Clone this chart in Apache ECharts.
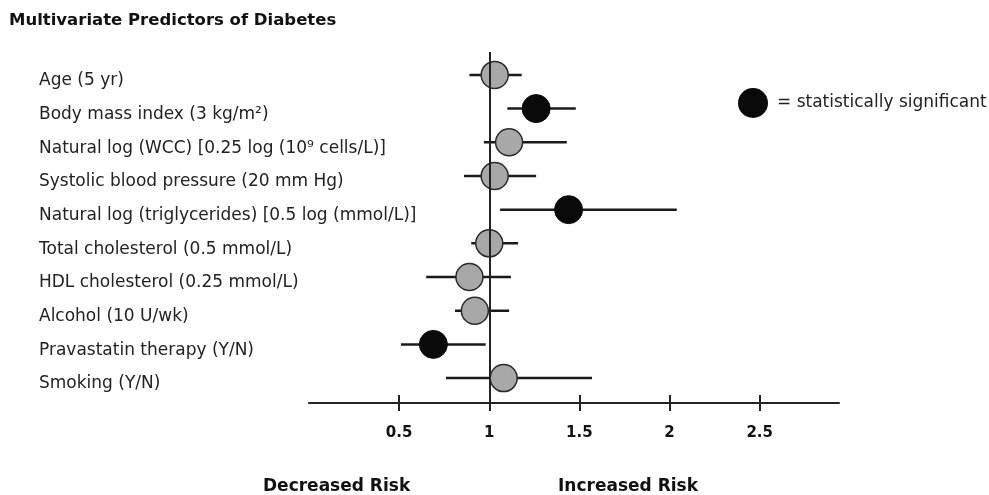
<!DOCTYPE html>
<html>
<head>
<meta charset="utf-8">
<script src="https://cdn.jsdelivr.net/npm/echarts@6/dist/echarts.min.js"></script>
<style>
  html, body { margin: 0; padding: 0; background: #fff; }
  #chart { width: 989px; height: 495px; }
</style>
</head>
<body>
<div id="chart"></div>
<script>
const predictors = [
  "Age (5 yr)",
  "Body mass index (3 kg/m²)",
  "Natural log (WCC) [0.25 log (10⁹ cells/L)]",
  "Systolic blood pressure (20 mm Hg)",
  "Natural log (triglycerides) [0.5 log (mmol/L)]",
  "Total cholesterol (0.5 mmol/L)",
  "HDL cholesterol (0.25 mmol/L)",
  "Alcohol (10 U/wk)",
  "Pravastatin therapy (Y/N)",
  "Smoking (Y/N)"
];
const oddsRatio = [1.03, 1.26, 1.11, 1.03, 1.44, 1.0, 0.89, 0.92, 0.69, 1.08];
const ciLower = [0.89, 1.1, 0.97, 0.86, 1.06, 0.9, 0.65, 0.81, 0.51, 0.76];
const ciUpper = [1.18, 1.48, 1.43, 1.26, 2.04, 1.16, 1.12, 1.11, 0.98, 1.57];
const significant = [false, true, false, false, true, false, false, false, true, false];
const xTicks = [0.5, 1, 1.5, 2, 2.5];

const rowIdx = predictors.map((_, i) => i);
const font = "DejaVu Sans";

const chart = echarts.init(document.getElementById("chart"));

const option = {
  animation: false,
  backgroundColor: "#fff",
  textStyle: { fontFamily: font },
  title: [
    {
      text: "Multivariate Predictors of Diabetes",
      left: 9, top: 12, padding: 0,
      textStyle: { fontFamily: font, fontSize: 16.5, fontWeight: "bold", color: "#111" }
    },
    {
      text: "Decreased Risk",
      left: 263, top: 478, padding: 0,
      textStyle: { fontFamily: font, fontSize: 17, fontWeight: "bold", color: "#111" }
    },
    {
      text: "Increased Risk",
      left: 558, top: 478, padding: 0,
      textStyle: { fontFamily: font, fontSize: 17, fontWeight: "bold", color: "#111" }
    }
  ],
  legend: {
    left: 733, top: 83,
    itemWidth: 28, itemHeight: 28,
    data: ["= statistically significant"],
    textStyle: { fontFamily: font, fontSize: 17, color: "#222", padding: [0, 0, 0, 5] }
  },
  grid: { left: 309, right: 150, top: 52, bottom: 92 },
  xAxis: [
    {
      type: "value",
      min: 0, max: 2.94,
      splitLine: { show: false },
      axisLine: { onZero: false, lineStyle: { color: "#222", width: 2 } },
      axisTick: { customValues: xTicks, length: 8, lineStyle: { color: "#222", width: 2 } },
      axisLabel: {
        customValues: xTicks,
        margin: 23,
        fontFamily: font, fontSize: 15, fontWeight: "bold", color: "#111"
      }
    },
    {
      type: "value",
      position: "bottom",
      min: 0, max: 2.94,
      splitLine: { show: false },
      axisLine: { show: false, onZero: false },
      axisLabel: { show: false },
      axisTick: { customValues: xTicks, inside: true, length: 8, lineStyle: { color: "#222", width: 2 } }
    }
  ],
  yAxis: {
    type: "value",
    inverse: true,
    min: -0.68, max: 9.74,
    splitLine: { show: false },
    axisLine: { show: false },
    axisTick: { show: false },
    axisLabel: {
      customValues: rowIdx,
      formatter: (v) => predictors[v],
      align: "left",
      verticalAlign: "top",
      lineHeight: 12,
      margin: 270,
      fontFamily: font, fontSize: 17, color: "#222"
    }
  },
  series: [
    {
      name: "ci",
      type: "custom",
      z: 1,
      data: rowIdx.map((i) => [ciLower[i], ciUpper[i], i]),
      encode: { x: [0, 1], y: 2 },
      renderItem: (params, api) => {
        const a = api.coord([api.value(0), api.value(2)]);
        const b = api.coord([api.value(1), api.value(2)]);
        return {
          type: "line",
          shape: { x1: a[0], y1: a[1], x2: b[0], y2: b[1] },
          style: { stroke: "#1a1a1a", lineWidth: 2.5 }
        };
      },
      markLine: {
        silent: true,
        symbol: "none",
        label: { show: false },
        lineStyle: { color: "#222", width: 2, type: "solid" },
        data: [{ xAxis: 1 }]
      }
    },
    {
      name: "not significant",
      type: "scatter",
      z: 3,
      symbolSize: 27,
      itemStyle: { color: "#a8a8a8", borderColor: "#2a2a2a", borderWidth: 1.5, opacity: 1 },
      data: rowIdx.filter((i) => !significant[i]).map((i) => [oddsRatio[i], i])
    },
    {
      name: "= statistically significant",
      type: "scatter",
      z: 3,
      symbolSize: 28,
      itemStyle: { color: "#0a0a0a", borderColor: "#0a0a0a", borderWidth: 1, opacity: 1 },
      data: rowIdx.filter((i) => significant[i]).map((i) => [oddsRatio[i], i])
    }
  ]
};

option && chart.setOption(option);
</script>
</body>
</html>
